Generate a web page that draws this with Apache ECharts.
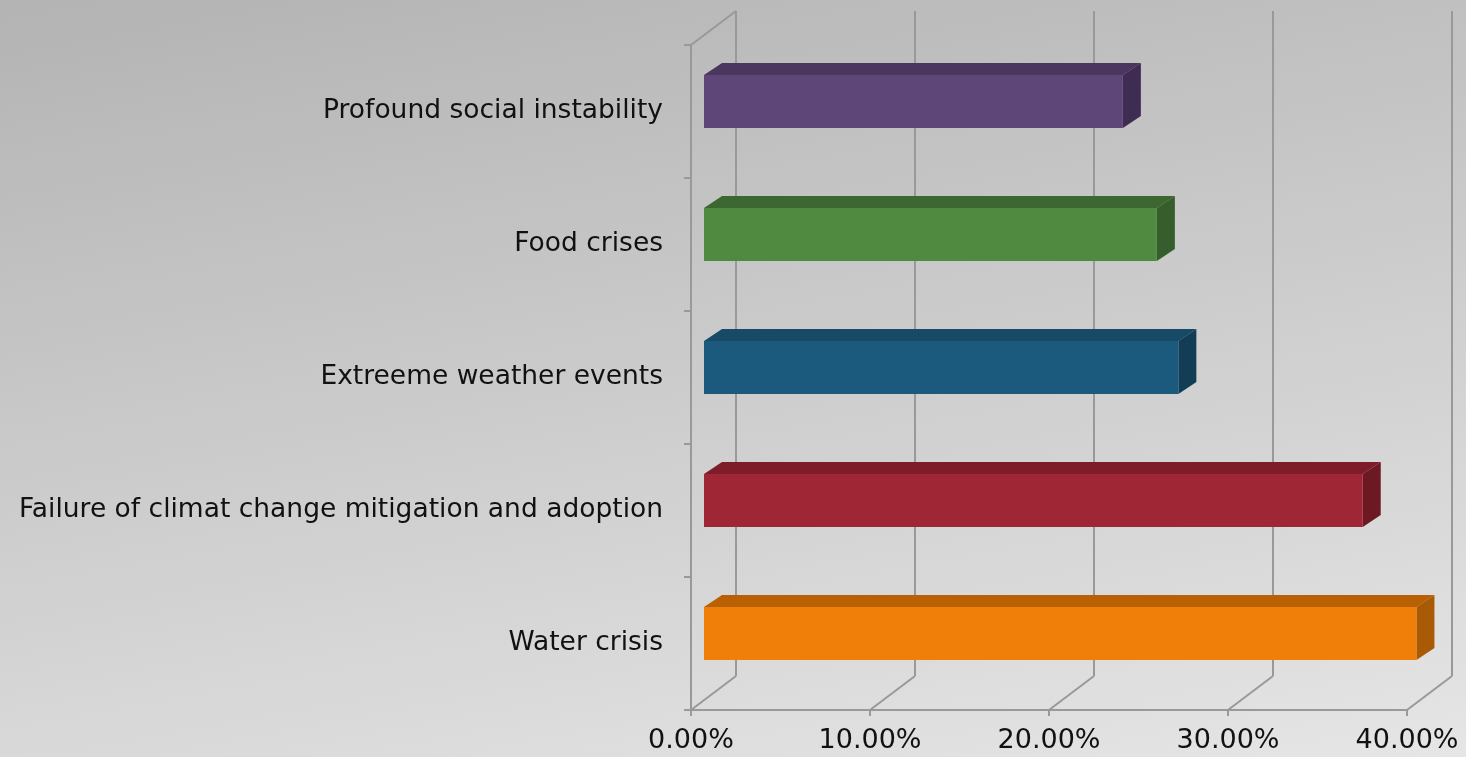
<!DOCTYPE html>
<html><head><meta charset="utf-8">
<script src="https://cdn.jsdelivr.net/npm/echarts@6/dist/echarts.min.js"></script>
<style>html,body{margin:0;padding:0;width:1466px;height:757px;overflow:hidden}#c{width:1466px;height:757px}</style>
</head><body><div id="c"></div><script>
// ---- data ----
const categories = ['Water crisis', 'Failure of climat change mitigation and adoption', 'Extreeme weather events', 'Food crises', 'Profound social instability'];
const values = [39.8, 36.8, 26.5, 25.3, 23.4];
const xTicks = [0, 10, 20, 30, 40];

// ---- styles ----
const frontColors = ['#f07f09', '#9f2635', '#1b5a7c', '#4f8a40', '#5f4679'];
const topColors   = ['#b96005', '#7d1d29', '#164a66', '#3c6730', '#4b365f'];
const sideColors  = ['#a85a05', '#6c1923', '#123d55', '#365e2c', '#3f2c52'];
const FONT = 'DejaVu Sans';
const DX = 45, DY = -34;      // back wall offset
const FX = 13, FY = -10;      // bar front-face offset
const BX = 18, BY = -12;      // bar depth
const gridStyle = { stroke: '#999999', lineWidth: 2, fill: null };

function renderGrid(params, api) {
  const cs = params.coordSys;
  const v = api.value(0);
  const x = api.coord([v, 0])[0];
  const top = cs.y, bot = cs.y + cs.height;
  const children = [
    { type: 'line', shape: { x1: x + DX, y1: top + DY, x2: x + DX, y2: bot + DY }, style: gridStyle },
    { type: 'line', shape: { x1: x, y1: bot, x2: x + DX, y2: bot + DY }, style: gridStyle }
  ];
  if (v === xTicks[0]) {
    children.push({ type: 'line', shape: { x1: x, y1: top, x2: x + DX, y2: top + DY }, style: gridStyle });
  }
  return { type: 'group', children };
}

function renderBar(params, api) {
  const v = api.value(0), idx = api.value(1);
  const p0 = api.coord([0, idx]), p1 = api.coord([v, idx]);
  const band = api.size([0, 1])[1];
  const h = band * 0.4;
  const x0 = p0[0] + FX, x1 = p1[0] + FX;
  const yc = p0[1] + FY;
  const yt = yc - h / 2, yb = yc + h / 2;
  const i = params.dataIndex;
  return {
    type: 'group',
    children: [
      { type: 'polygon', shape: { points: [[x0, yt], [x1, yt], [x1 + BX, yt + BY], [x0 + BX, yt + BY]] }, style: { fill: topColors[i] } },
      { type: 'polygon', shape: { points: [[x1, yt], [x1 + BX, yt + BY], [x1 + BX, yb + BY], [x1, yb]] }, style: { fill: sideColors[i] } },
      { type: 'rect', shape: { x: x0, y: yt, width: x1 - x0, height: h }, style: { fill: frontColors[i] } }
    ]
  };
}

const chart = echarts.init(document.getElementById('c'));
chart.setOption({
  animation: false,
  backgroundColor: { type: 'linear', x: 0, y: 0, x2: 0.125, y2: 1.345, colorStops: [{ offset: 0, color: '#b3b3b3' }, { offset: 1, color: '#e7e7e7' }] },
  grid: { left: 691, right: 59, top: 45, bottom: 47 },
  xAxis: {
    type: 'value', min: 0, max: 40, interval: 10,
    axisLine: { show: true, lineStyle: { color: '#999999', width: 2 } },
    axisTick: { show: true, length: 6, lineStyle: { color: '#999999', width: 2 } },
    splitLine: { show: false },
    axisLabel: { formatter: v => v.toFixed(2) + '%', fontFamily: FONT, fontSize: 27, color: '#111', margin: 17 }
  },
  yAxis: {
    type: 'category', data: categories,
    axisLine: { show: true, lineStyle: { color: '#999999', width: 2 } },
    axisTick: { show: true, length: 7, lineStyle: { color: '#999999', width: 2 } },
    axisLabel: { fontFamily: FONT, fontSize: 26.5, color: '#111', margin: 28 }
  },
  series: [
    { type: 'custom', renderItem: renderGrid, data: xTicks.map(v => [v, 0]), encode: { x: 0, y: 1 }, z: 1, silent: true },
    { type: 'custom', renderItem: renderBar, data: values.map((v, i) => [v, i]), encode: { x: 0, y: 1 }, z: 2 }
  ]
});
</script></body></html>
